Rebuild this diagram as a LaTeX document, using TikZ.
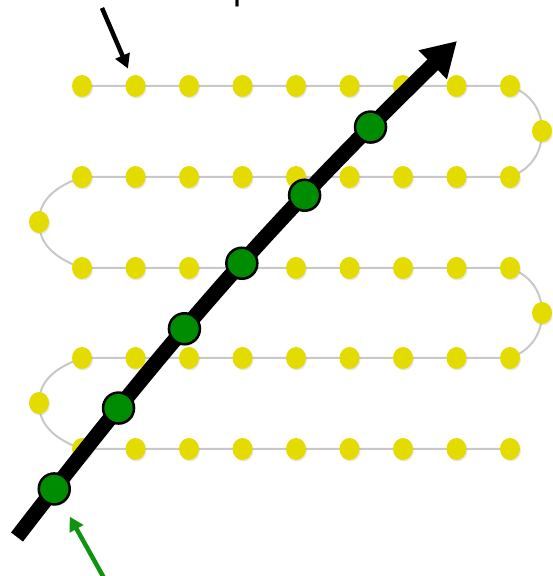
\documentclass[tikz,border=0pt]{standalone}
\usepackage{fontspec}
\setmainfont{Liberation Sans}
\usetikzlibrary{shapes.geometric, arrows.meta, shadows, backgrounds}
\definecolor{dotyellow}{HTML}{E4DC00}
\definecolor{dotgreen}{HTML}{008C00}
\definecolor{pathgray}{HTML}{C8C8C8}
\definecolor{pointgreen}{HTML}{0E940E}

\begin{document}
\begin{tikzpicture}[
    x=1pt, y=1pt,
    ydot/.style={ellipse, fill=dotyellow, minimum width=20pt, minimum height=22pt, inner sep=0pt,
        drop shadow={opacity=0.18, shadow xshift=1pt, shadow yshift=-1.5pt}},
    gdot/.style={circle, draw=black, line width=2.5pt, fill=dotgreen, minimum size=31pt, inner sep=0pt,
        drop shadow={opacity=0.2, shadow xshift=1pt, shadow yshift=-1.5pt}},
    chain/.style={pathgray, line width=2pt},
    pointer/.style={-{Triangle[length=14pt, width=15pt]}, line width=4.5pt},
    bigarrow/.style={-{Triangle[length=34pt, width=38pt]}, line width=15pt}
]
\useasboundingbox (0,0) rectangle (552,576);
\clip (0,0) rectangle (552,576);

% cut-off label at the top edge
\node[anchor=base west, inner sep=0pt, font=\fontsize{36}{40}\selectfont] (title) at (233,576.5) {p};

% rows of dots
\foreach \r/\y in {1/490, 2/399, 3/308, 4/218, 5/127}
  \foreach \c in {1,...,9}
    \node[ydot] (r\r c\c) at ({82+53.5*(\c-1)}, \y) {};
\node[ydot] (b1) at (542,445) {};
\node[ydot] (b2) at (39,354) {};
\node[ydot] (b3) at (542,263) {};
\node[ydot] (b4) at (39,173) {};

\begin{scope}[on background layer]
\draw[chain] (r1c1.center) -- (r1c9.center) to[out=-20,in=90] (b1.center) to[out=-90,in=20] (r2c9.center)
    -- (r2c1.center) to[out=200,in=90] (b2.center) to[out=-90,in=160] (r3c1.center)
    -- (r3c9.center) to[out=-20,in=90] (b3.center) to[out=-90,in=20] (r4c9.center)
    -- (r4c1.center) to[out=200,in=90] (b4.center) to[out=-90,in=160] (r5c1.center)
    -- (r5c9.center);
\end{scope}

% the line and its samples
\coordinate (tail) at (17,39);
\coordinate (tip) at (457,535);
\draw[bigarrow] (tail) to[bend left=4] (tip);
\path (tail) to[bend left=4]
    node[gdot, pos=0.081] (g1) {}
    node[gdot, pos=0.231] (g2) {}
    node[gdot, pos=0.394] (g3) {}
    node[gdot, pos=0.537] (g4) {}
    node[gdot, pos=0.687] (g5) {}
    node[gdot, pos=0.832] (g6) {} (tip);

% pointers
\coordinate (startmark) at (102,568);
\coordinate (greenmark) at (104,-2);
\draw[pointer, shorten >=8pt] (startmark) -- (r1c2);
\draw[pointer, pointgreen, shorten >=15pt] (greenmark) -- (g1);
\end{tikzpicture}
\end{document}
